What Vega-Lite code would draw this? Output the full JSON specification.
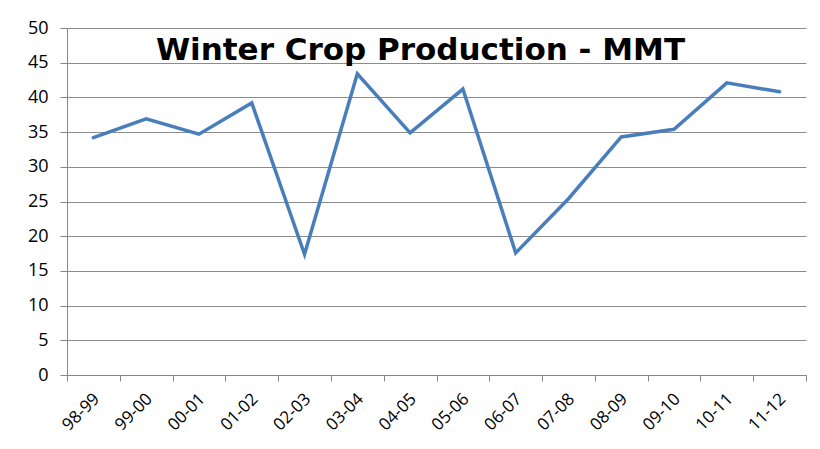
{
  "$schema": "https://vega.github.io/schema/vega-lite/v6.json",
  "width": 739,
  "height": 347,
  "autosize": {"type": "none"},
  "padding": {"left": 67, "top": 28, "right": 14, "bottom": 74},
  "background": "white",
  "title": {
    "text": "Winter Crop Production - MMT",
    "font": "DejaVu Sans",
    "fontSize": 31,
    "fontWeight": "bold",
    "color": "black",
    "anchor": "middle",
    "baseline": "alphabetic",
    "offset": 0,
    "dy": 72,
    "dx": -16
  },
  "data": {
    "values": [
      {"year": "98-99", "value": 34.2},
      {"year": "99-00", "value": 36.9},
      {"year": "00-01", "value": 34.7},
      {"year": "01-02", "value": 39.2},
      {"year": "02-03", "value": 17.4},
      {"year": "03-04", "value": 43.4},
      {"year": "04-05", "value": 34.9},
      {"year": "05-06", "value": 41.2},
      {"year": "06-07", "value": 17.6},
      {"year": "07-08", "value": 25.4},
      {"year": "08-09", "value": 34.3},
      {"year": "09-10", "value": 35.4},
      {"year": "10-11", "value": 42.1},
      {"year": "11-12", "value": 40.8}
    ]
  },
  "mark": {"type": "line", "color": "#4a7ebb", "strokeWidth": 3.5, "strokeCap": "round", "strokeJoin": "miter"},
  "encoding": {
    "x": {
      "field": "year",
      "type": "ordinal",
      "sort": null,
      "scale": {"type": "band", "paddingInner": 0, "paddingOuter": 0},
      "axis": {
        "title": null,
        "labelAngle": -45,
        "labelAlign": "right",
        "labelBaseline": "middle",
        "labelFont": "Open Sans",
        "labelFontSize": 17,
        "labelColor": "black",
        "labelPadding": 15,
        "labelOffset": 3,
        "tickBand": "extent",
        "tickSize": 6,
        "tickColor": "#868686",
        "domainColor": "#868686",
        "grid": false
      }
    },
    "y": {
      "field": "value",
      "type": "quantitative",
      "scale": {"domain": [0, 50], "nice": false},
      "axis": {
        "title": null,
        "values": [0, 5, 10, 15, 20, 25, 30, 35, 40, 45, 50],
        "labelFont": "Open Sans",
        "labelFontSize": 18,
        "labelColor": "black",
        "labelPadding": 12,
        "tickSize": 7,
        "tickColor": "#868686",
        "domainColor": "#868686",
        "gridColor": "#8c8c8c",
        "gridWidth": 1
      }
    }
  },
  "config": {
    "view": {"stroke": null}
  }
}
